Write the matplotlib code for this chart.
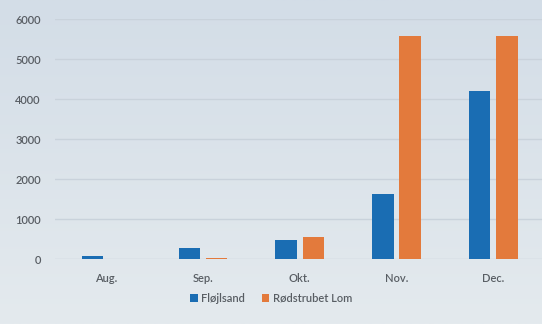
import numpy as np
import matplotlib
matplotlib.use("Agg")
import matplotlib.pyplot as plt

months = ["Aug.", "Sep.", "Okt.", "Nov.", "Dec."]
flojlsand = [80, 280, 470, 1630, 4200]
rodstrubet = [10, 30, 550, 5570, 5570]
yticks = [0, 1000, 2000, 3000, 4000, 5000, 6000]

plt.rcParams['font.family'] = ['Lato', 'DejaVu Sans']

fig = plt.figure(figsize=(5.42, 3.24), dpi=100)

# soft bluish gradient behind everything
bg = fig.add_axes([0, 0, 1, 1], zorder=0)
grad = np.linspace(0, 1, 256).reshape(-1, 1)
cmap = matplotlib.colors.LinearSegmentedColormap.from_list("bg", ["#d3dde7", "#e4eaee"])
bg.imshow(grad, aspect="auto", cmap=cmap, extent=[0, 1, 0, 1], origin="upper")
bg.axis("off")

ax = fig.add_axes([0.101, 0.2006, 0.92, 0.7407], zorder=1)
ax.patch.set_alpha(0)

x = np.arange(len(months))
w = 0.22
off = 0.14
b1 = ax.bar(x - off, flojlsand, w, color="#1a6db3", label="Fløjlsand", zorder=3)
b2 = ax.bar(x + off, rodstrubet, w, color="#e37a3c", label="Rødstrubet Lom", zorder=3)

ax.set_ylim(0, 6000)
ax.set_xlim(-0.53, 4.62)
ax.set_yticks(yticks)
ax.set_xticks(x)
ax.set_xticklabels(months)
ax.yaxis.grid(True, color="#c9d2db", linewidth=1.0, zorder=0)
ax.tick_params(axis="both", length=0, labelsize=8, colors="#585d63")
ax.tick_params(axis="y", pad=10)
ax.tick_params(axis="x", pad=10)
for lbl in ax.get_xticklabels() + ax.get_yticklabels():
    lbl.set_fontweight("semibold")
for s in ax.spines.values():
    s.set_visible(False)

leg = fig.legend(handles=[b1, b2], loc="center", bbox_to_anchor=(0.5, 0.08), ncol=2,
                 frameon=False, fontsize=8, handlelength=0.7, handleheight=0.7,
                 handletextpad=0.3, columnspacing=1.5)
for t in leg.get_texts():
    t.set_color("#585d63")
    t.set_fontweight("semibold")

fig.savefig("out.png", dpi=100)
